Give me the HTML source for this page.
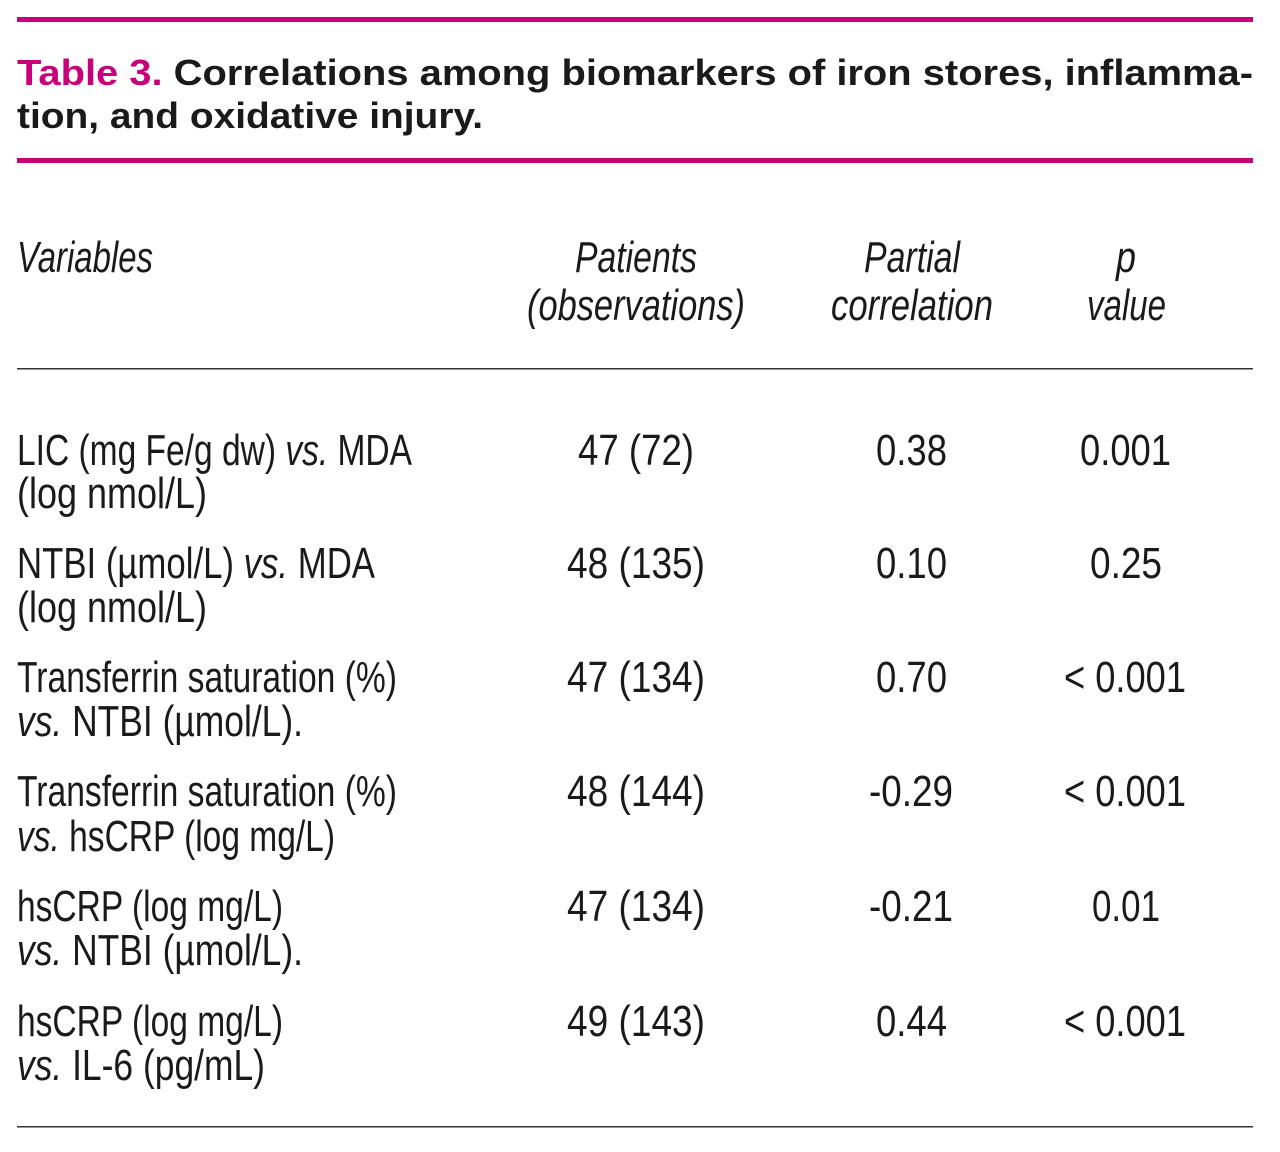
<!DOCTYPE html>
<html><head><meta charset="utf-8"><style>
html,body{margin:0;padding:0;background:#fff;}
svg{display:block;}
text{font-family:"Liberation Sans Narrow","Liberation Sans",sans-serif;fill:#1a1a1a;}
.t{font-family:"Liberation Sans",sans-serif;font-weight:bold;font-size:36px;}
.b{font-size:44px;}
.h{font-size:44px;font-style:italic;}
.i{font-style:italic;}
</style></head><body>
<svg width="1280" height="1152" viewBox="0 0 1280 1152">
<rect x="17" y="17" width="1236" height="5" fill="#c8007a"/>
<text class="t" x="17" y="85" textLength="1236" lengthAdjust="spacingAndGlyphs"><tspan style="fill:#c8007a">Table 3.</tspan> Correlations among biomarkers of iron stores, inflamma-</text>
<text class="t" x="17" y="128" textLength="466" lengthAdjust="spacingAndGlyphs">tion, and oxidative injury.</text>
<rect x="17" y="158" width="1236" height="5" fill="#c8007a"/>

<g>
<text class="h" x="17" y="272" textLength="136" lengthAdjust="spacingAndGlyphs">Variables</text>
<text class="h" x="575" y="272" textLength="122" lengthAdjust="spacingAndGlyphs">Patients</text>
<text class="h" x="527" y="320" textLength="218" lengthAdjust="spacingAndGlyphs">(observations)</text>
<text class="h" x="864" y="272" textLength="96" lengthAdjust="spacingAndGlyphs">Partial</text>
<text class="h" x="831" y="320" textLength="162" lengthAdjust="spacingAndGlyphs">correlation</text>
<text class="h" x="1116" y="272" textLength="20" lengthAdjust="spacingAndGlyphs">p</text>
<text class="h" x="1087" y="320" textLength="79" lengthAdjust="spacingAndGlyphs">value</text>
</g>
<rect x="17" y="368" width="1236" height="1.5" fill="#333"/>

<g>
<text class="b" x="17" y="465" textLength="395" lengthAdjust="spacingAndGlyphs">LIC (mg Fe/g dw) <tspan class="i">vs.</tspan> MDA</text>
<text class="b" x="17" y="508" textLength="190" lengthAdjust="spacingAndGlyphs">(log nmol/L)</text>
<text class="b" x="578" y="465" textLength="116" lengthAdjust="spacingAndGlyphs">47 (72)</text>
<text class="b" x="876" y="465" textLength="71" lengthAdjust="spacingAndGlyphs">0.38</text>
<text class="b" x="1080" y="465" textLength="91" lengthAdjust="spacingAndGlyphs">0.001</text>
</g>
<g>
<text class="b" x="17" y="578" textLength="358" lengthAdjust="spacingAndGlyphs">NTBI (µmol/L) <tspan class="i">vs.</tspan> MDA</text>
<text class="b" x="17" y="622" textLength="190" lengthAdjust="spacingAndGlyphs">(log nmol/L)</text>
<text class="b" x="567" y="578" textLength="138" lengthAdjust="spacingAndGlyphs">48 (135)</text>
<text class="b" x="876" y="578" textLength="71" lengthAdjust="spacingAndGlyphs">0.10</text>
<text class="b" x="1090" y="578" textLength="72" lengthAdjust="spacingAndGlyphs">0.25</text>
</g>
<g>
<text class="b" x="17" y="692" textLength="380" lengthAdjust="spacingAndGlyphs">Transferrin saturation (%)</text>
<text class="b" x="17" y="736" textLength="286" lengthAdjust="spacingAndGlyphs"><tspan class="i">vs.</tspan> NTBI (µmol/L).</text>
<text class="b" x="567" y="692" textLength="138" lengthAdjust="spacingAndGlyphs">47 (134)</text>
<text class="b" x="876" y="692" textLength="71" lengthAdjust="spacingAndGlyphs">0.70</text>
<text class="b" x="1064" y="692" textLength="122" lengthAdjust="spacingAndGlyphs">&lt; 0.001</text>
</g>
<g>
<text class="b" x="17" y="806" textLength="380" lengthAdjust="spacingAndGlyphs">Transferrin saturation (%)</text>
<text class="b" x="17" y="851" textLength="318" lengthAdjust="spacingAndGlyphs"><tspan class="i">vs.</tspan> hsCRP (log mg/L)</text>
<text class="b" x="567" y="806" textLength="138" lengthAdjust="spacingAndGlyphs">48 (144)</text>
<text class="b" x="869" y="806" textLength="84" lengthAdjust="spacingAndGlyphs">-0.29</text>
<text class="b" x="1064" y="806" textLength="122" lengthAdjust="spacingAndGlyphs">&lt; 0.001</text>
</g>
<g>
<text class="b" x="17" y="921" textLength="266" lengthAdjust="spacingAndGlyphs">hsCRP (log mg/L)</text>
<text class="b" x="17" y="965" textLength="286" lengthAdjust="spacingAndGlyphs"><tspan class="i">vs.</tspan> NTBI (µmol/L).</text>
<text class="b" x="567" y="921" textLength="138" lengthAdjust="spacingAndGlyphs">47 (134)</text>
<text class="b" x="869" y="921" textLength="84" lengthAdjust="spacingAndGlyphs">-0.21</text>
<text class="b" x="1092" y="921" textLength="68" lengthAdjust="spacingAndGlyphs">0.01</text>
</g>
<g>
<text class="b" x="17" y="1036" textLength="266" lengthAdjust="spacingAndGlyphs">hsCRP (log mg/L)</text>
<text class="b" x="17" y="1080" textLength="248" lengthAdjust="spacingAndGlyphs"><tspan class="i">vs.</tspan> IL-6 (pg/mL)</text>
<text class="b" x="567" y="1036" textLength="138" lengthAdjust="spacingAndGlyphs">49 (143)</text>
<text class="b" x="876" y="1036" textLength="71" lengthAdjust="spacingAndGlyphs">0.44</text>
<text class="b" x="1064" y="1036" textLength="122" lengthAdjust="spacingAndGlyphs">&lt; 0.001</text>
</g>
<rect x="17" y="1126" width="1236" height="1.5" fill="#333"/>
</svg>
</body></html>
